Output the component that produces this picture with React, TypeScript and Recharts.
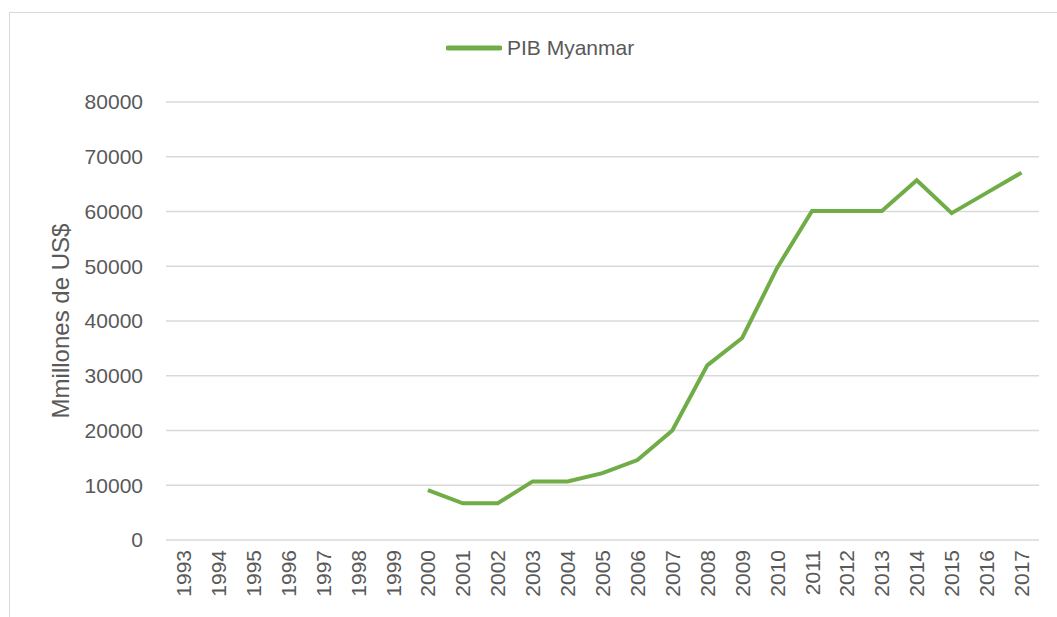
import React from "react";
import {
  LineChart,
  Line,
  XAxis,
  YAxis,
  CartesianGrid,
  Legend,
  Label,
} from "recharts";

const years = [
  "1993", "1994", "1995", "1996", "1997", "1998", "1999", "2000", "2001",
  "2002", "2003", "2004", "2005", "2006", "2007", "2008", "2009", "2010",
  "2011", "2012", "2013", "2014", "2015", "2016", "2017",
];

const pibMyanmar: (number | null)[] = [
  null, null, null, null, null, null, null, 9100, 6700, 6700, 10700, 10700,
  12200, 14600, 20000, 31900, 36900, 49700, 60100, 60100, 60100, 65700,
  59700, 63400, 67100,
];

const yTicks = [0, 10000, 20000, 30000, 40000, 50000, 60000, 70000, 80000];

const data = years.map((year, i) => ({ year, pib: pibMyanmar[i] }));

const FONT = "'Liberation Sans', Arial, sans-serif";
const TEXT = "#595959";
const GREEN = "#70ad47";

function LegendContent() {
  return (
    <div style={{ display: "flex", alignItems: "center", fontFamily: FONT }}>
      <svg width={56} height={8}>
        <line x1={2} y1={4} x2={54} y2={4} stroke={GREEN} strokeWidth={5} strokeLinecap="round" />
      </svg>
      <span style={{ marginLeft: 5, fontSize: 21, color: TEXT }}>PIB Myanmar</span>
    </div>
  );
}

function YearTick(props: any) {
  const { x, y, payload } = props;
  const ty = y + 2;
  return (
    <text
      x={x}
      y={ty}
      transform={`rotate(-90, ${x}, ${ty})`}
      textAnchor="end"
      dominantBaseline="central"
      fontSize={21}
      fill={TEXT}
      fontFamily={FONT}
    >
      {payload.value}
    </text>
  );
}

export default function App() {
  return (
    <div
      style={{
        position: "absolute",
        left: 9,
        top: 12,
        width: 1056,
        height: 616,
        border: "1px solid #d9d9d9",
        boxSizing: "border-box",
        background: "#fff",
      }}
    >
      <LineChart
        width={1044}
        height={600}
        data={data}
        margin={{ top: 89, right: 15, bottom: 13, left: 96 }}
        style={{ fontFamily: FONT }}
      >
        <CartesianGrid vertical={false} stroke="#d9d9d9" strokeWidth={1.5} />
        <XAxis
          dataKey="year"
          height={60}
          axisLine={false}
          tickLine={false}
          interval={0}
          padding={{ left: 17.5, right: 17.5 }}
          tick={<YearTick />}
        />
        <YAxis
          width={60}
          domain={[0, 80000]}
          ticks={yTicks}
          interval={0}
          axisLine={false}
          tickLine={false}
          tickMargin={17}
          tick={{ fontSize: 21, fill: TEXT }}
        >
          <Label
            content={(props: any) => {
              const vb = props.viewBox || {};
              const cx = vb.x - 46;
              const cy = vb.y + vb.height / 2;
              return (
                <text
                  x={cx}
                  y={cy}
                  transform={`rotate(-90, ${cx}, ${cy})`}
                  textAnchor="middle"
                  dominantBaseline="central"
                  fontSize={24}
                  fill={TEXT}
                  fontFamily={FONT}
                >
                  Mmillones de US$
                </text>
              );
            }}
          />
        </YAxis>
        <Legend
          verticalAlign="middle"
          content={<LegendContent />}
          wrapperStyle={{ top: 23, left: 436, width: 260 }}
        />
        <Line
          type="linear"
          dataKey="pib"
          name="PIB Myanmar"
          stroke={GREEN}
          strokeWidth={4}
          dot={false}
          activeDot={false}
          isAnimationActive={false}
        />
      </LineChart>
    </div>
  );
}
